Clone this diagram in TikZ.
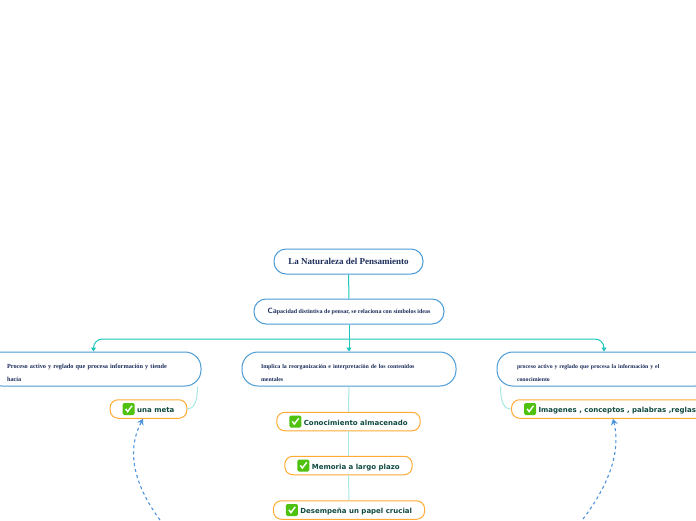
\documentclass[tikz,border=0pt]{standalone}
\usepackage{fontspec}
\setmainfont{Liberation Serif}
\newfontfamily\leaffont{DejaVu Sans}
\usetikzlibrary{arrows.meta}
\definecolor{bordblue}{HTML}{4A9BD6}
\definecolor{navytxt}{HTML}{1B2C5A}
\definecolor{leaford}{HTML}{FFAA33}
\definecolor{leaftxt}{HTML}{0F4A40}
\definecolor{tealc}{HTML}{1CC6BE}
\definecolor{palec}{HTML}{A6E8E4}
\definecolor{dashc}{HTML}{4E93DC}
\definecolor{chkg}{HTML}{4FC210}
\newcommand{\chk}{\tikz[baseline=2.4pt,x=1pt,y=1pt]{\fill[chkg,rounded corners=1.5pt] (0,0) rectangle (12,12);\draw[white,line width=1.4pt,sharp corners] (3,6.2) -- (5,3.4) -- (9.4,9.2);}\hspace{2.5pt}}
\newcommand{\topadj}{\rule{0pt}{11.6pt}}
\tikzset{
 topbox/.style={draw=bordblue,line width=1pt,rounded corners=12pt,fill=white,text=navytxt,font=\bfseries,align=center,inner sep=0pt},
 bigbox/.style={draw=bordblue,line width=1pt,rounded corners=16pt,fill=white,text=navytxt,font=\bfseries\fontsize{6.3}{13}\selectfont,align=left,inner ysep=0pt,minimum height=34pt},
 leaf/.style={draw=leaford,line width=1pt,rounded corners=8pt,fill=white,text=leaftxt,font=\leaffont\bfseries\fontsize{7}{9}\selectfont,inner xsep=12.5pt,inner ysep=0pt,minimum height=18.5pt},
 conn/.style={draw=tealc,line width=1pt},
 arr/.style={-{Triangle[length=4pt,width=5pt]}},
 paleconn/.style={draw=palec,line width=1pt},
 dashconn/.style={draw=dashc,line width=1.1pt,dashed,dash pattern=on 3pt off 3pt,-{Stealth[length=6pt,width=7pt]}}
}
\begin{document}
\begin{tikzpicture}[x=1pt,y=-1pt]
\useasboundingbox (0,0) rectangle (696,520);
\fill[white] (0,0) rectangle (696,520);
\node[topbox,minimum width=149pt,minimum height=25pt,font=\bfseries\fontsize{9}{11}\selectfont] (root) at (348.5,261.5) {\raisebox{-0.6pt}{La Naturaleza del Pensamiento}};
\node[topbox,minimum width=190pt,minimum height=25pt,font=\bfseries\fontsize{6}{8}\selectfont] (cap) at (349,311.5) {{\sffamily\fontsize{7.5}{8}\selectfont Ca}pacidad distintiva de pensar, se relaciona con símbolos ideas};
\node[bigbox,text width=173pt,inner xsep=21pt] (left) at (93.5,369) {\topadj Proceso activo y reglado que procesa información y tiende\\hacia};
\node[bigbox,text width=176pt,inner xsep=19pt,font=\bfseries\fontsize{5.9}{13}\selectfont] (mid) at (349,369) {\topadj Implica la reorganización e interpretación de los contenidos\\mentales};
\node[bigbox,text width=174pt,inner xsep=20pt,font=\bfseries\fontsize{5.8}{13}\selectfont] (right) at (604,369) {\topadj proceso activo y reglado que procesa la información y el\\conocimiento};
\node[leaf] (meta) at (148.5,409) {\chk una meta};
\node[leaf] (img) at (610,409) {\chk Imagenes , conceptos , palabras ,reglas};
\node[leaf] (con) at (348.5,421.5) {\chk Conocimiento almacenado};
\node[leaf] (mem) at (348.5,465.5) {\chk Memoria a largo plazo};
\node[leaf] (des) at (349,510) {\chk Desempeña un papel crucial};
\coordinate (bus) at (349,339);
\coordinate (dashA) at (160,520);
\coordinate (dashB) at (583,519);
\draw[conn] (root) -- (cap);
\draw[conn,arr] (cap) -- (mid);
\draw[conn,arr,rounded corners=9pt] (bus) -| (left.north);
\draw[conn,arr,rounded corners=9pt] (bus) -| (right.north);
\draw[paleconn] (mid) -- (con);
\draw[paleconn] (con) -- (mem);
\draw[paleconn] (mem) -- (des);
\draw[paleconn] ([xshift=-4pt]left.south east) .. controls +(0,16) and +(6,0) .. (meta.east);
\draw[paleconn] ([xshift=4pt]right.south west) .. controls +(0,16) and +(-7,0) .. (img.west);
\draw[dashconn] (dashA) .. controls (138,490) and (124,455) .. ([xshift=-5.5pt]meta.south);
\draw[dashconn] (dashB) .. controls (605,490) and (622,455) .. ([xshift=3pt]img.south);
\end{tikzpicture}
\end{document}
